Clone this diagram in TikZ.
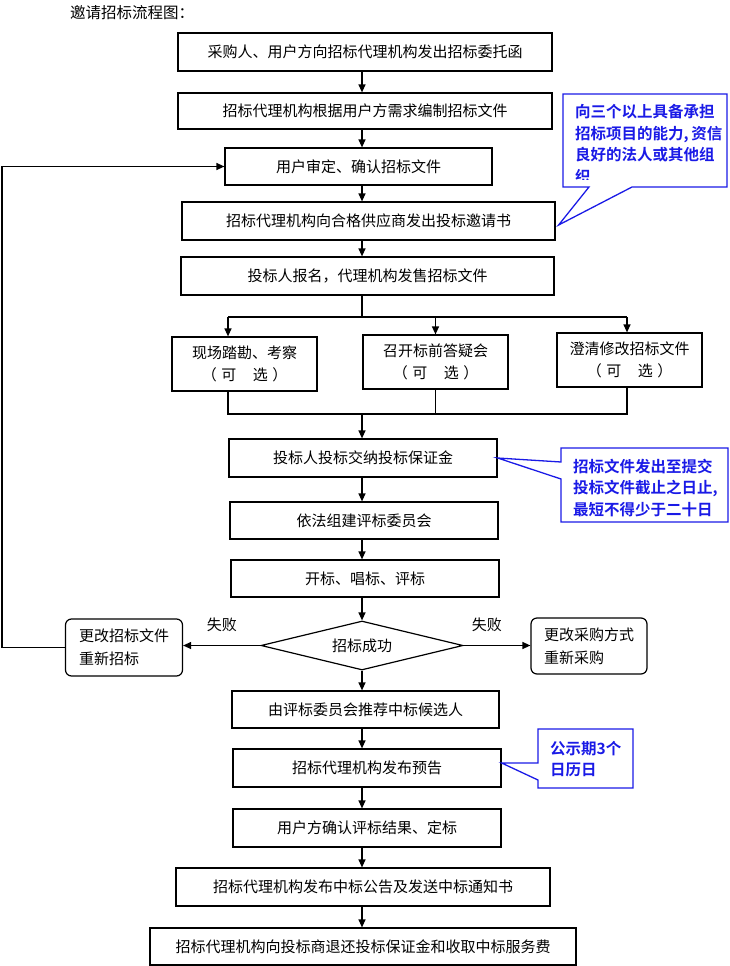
\documentclass[tikz,border=0pt]{standalone}
\usepackage{fontspec}
\setmainfont{Noto Sans CJK SC}[BoldFont={Noto Sans CJK SC Bold}]
\usepackage{tikz}
\usetikzlibrary{arrows.meta,positioning,calc,shapes.geometric}
\definecolor{notice}{HTML}{1A1AE6}
\tikzset{
  stepbox/.style={draw,line width=1.2pt,inner sep=0pt,align=center,
    minimum height=38pt,font=\fontsize{15}{22}\selectfont},
  optbox/.style={stepbox,minimum width=145pt,minimum height=54pt},
  redobox/.style={draw,line width=1.2pt,rounded corners=6pt,inner sep=0pt,
    minimum width=117pt,minimum height=57pt,text width=90pt,align=left,
    font=\fontsize{15}{23}\selectfont},
  check/.style={draw,diamond,aspect=4,line width=1.2pt,inner sep=0pt,
    minimum width=202pt,minimum height=49pt,font=\fontsize{15}{18}\selectfont},
  arrow/.style={-{Triangle[length=8pt,width=7pt]},line width=1.2pt},
  link/.style={line width=1.2pt},
  callout/.style={draw=notice,line width=1.3pt},
  notetext/.style={text=notice,inner sep=0pt,align=left,
    font=\fontsize{15.5}{21.5}\selectfont\bfseries},
  failtext/.style={inner sep=0pt,font=\fontsize{15}{18}\selectfont}
}
\begin{document}
\begin{tikzpicture}[x=1pt,y=-1pt]
  \useasboundingbox (0,0) rectangle (730,966);
  \node[anchor=west,inner sep=0pt,font=\fontsize{15.5}{18}\selectfont] (title) at (70,13) {邀请招标流程图：};
  \coordinate (spine) at (362,0);
  % main column
  \node[stepbox,minimum width=374pt] (b1) at (365,52) {采购人、用户方向招标代理机构发出招标委托函};
  \node[stepbox,minimum width=374pt,minimum height=36pt] (b2) at (365,111) {招标代理机构根据用户方需求编制招标文件};
  \node[stepbox,minimum width=267pt,minimum height=37pt] (b3) at (358.5,166.5) {用户审定、确认招标文件};
  \node[stepbox,minimum width=373pt] (b4) at (368.5,221) {招标代理机构向合格供应商发出投标邀请书};
  \node[stepbox,minimum width=373pt] (b5) at (367.5,276) {投标人报名，代理机构发售招标文件};
  \node[optbox] (b6a) at (244.5,364) {现场踏勘、考察\\（\hspace{0.3em}可\hspace{1.1em}选\hspace{0.3em}）};
  \node[optbox] (b6b) at (435.5,362) {召开标前答疑会\\（\hspace{0.3em}可\hspace{1.1em}选\hspace{0.3em}）};
  \node[optbox] (b6c) at (629.5,360) {澄清修改招标文件\\（\hspace{0.3em}可\hspace{1.1em}选\hspace{0.3em}）};
  \node[stepbox,minimum width=268pt] (b7) at (363,458) {投标人投标交纳投标保证金};
  \node[stepbox,minimum width=268pt,minimum height=37pt] (b8) at (364,520.5) {依法组建评标委员会};
  \node[stepbox,minimum width=268pt,minimum height=37pt] (b9) at (365,578.5) {开标、唱标、评标};
  \node[check] (dia) at (362,645.5) {招标成功};
  \node[redobox] (lbox) at (124,647.5) {更改招标文件\\重新招标};
  \node[redobox,minimum width=116pt,minimum height=56pt] (rbox) at (589,646) {更改采购方式\\重新采购};
  \node[stepbox,minimum width=267pt,minimum height=37pt] (b10) at (365.5,709.5) {由评标委员会推荐中标候选人};
  \node[stepbox,minimum width=268pt] (b11) at (367,768) {招标代理机构发布预告};
  \node[stepbox,minimum width=268pt] (b12) at (367,828) {用户方确认评标结果、定标};
  \node[stepbox,minimum width=374pt] (b13) at (363,887) {招标代理机构发布中标公告及发送中标通知书};
  \node[stepbox,minimum width=426pt,minimum height=37pt] (b14) at (363,946.5) {招标代理机构向投标商退还投标保证金和收取中标服务费};

  % spine arrows
  \draw[arrow] (b1.south -| spine) -- (b2.north -| spine);
  \draw[arrow] (b2.south -| spine) -- (b3.north -| spine);
  \draw[arrow] (b3.south -| spine) -- (b4.north -| spine);
  \draw[arrow] (b4.south -| spine) -- (b5.north -| spine);
  \draw[arrow] (b7.south -| spine) -- (b8.north -| spine);
  \draw[arrow] (b8.south -| spine) -- (b9.north -| spine);
  \draw[arrow] (b9.south -| spine) -- (dia.north);
  \draw[arrow] (dia.south) -- (dia.south |- b10.north);
  \draw[arrow] (b10.south -| spine) -- (b11.north -| spine);
  \draw[arrow] (b11.south -| spine) -- (b12.north -| spine);
  \draw[arrow] (b12.south -| spine) -- (b13.north -| spine);
  \draw[arrow] (b13.south -| spine) -- (b14.north -| spine);

  % fork and join of optional steps
  \coordinate (fl) at (228,317);
  \coordinate (fr) at (627,317);
  \coordinate (jl) at (228,414);
  \coordinate (jr) at (627,414);
  \draw[link] (b5.south -| spine) -- (spine |- fl);
  \draw[link] (fl) -- (fr);
  \draw[arrow] (fl) -- (fl |- b6a.north);
  \draw[arrow] (b6b.north |- fl) -- (b6b.north);
  \draw[arrow] (fr) -- (fr |- b6c.north);
  \draw[link] (jl |- b6a.south) -- (jl) -- (jr) -- (jr |- b6c.south);
  \draw[link] (b6b.south) -- (b6b.south |- jl);
  \draw[arrow] (spine |- jl) -- (b7.north -| spine);

  % failure branches
  \coordinate (loop) at (2,0);
  \draw[arrow] (dia.west) -- node[failtext,above=13pt]{失败} (dia.west -| lbox.east);
  \draw[arrow] (dia.east) -- node[failtext,pos=0.35,above=13pt]{失败} (dia.east -| rbox.west);
  \draw[arrow] (lbox.west) -- (lbox.west -| loop) |- (b3.west);

  % notes
  \coordinate (tip1) at ($(b4.east)+(3,4)$);
  \coordinate (tip2) at (b7.east);
  \coordinate (tip3) at ($(b11.east)+(0,-5)$);
  \draw[callout] (563,94) -- (727,94) -- (727,187) -- (632,187) -- (tip1) -- (589,187) -- (563,187) -- cycle;
  \begin{scope}
    \clip (563,94) rectangle (727,179);
    \node[notetext,anchor=west] (c1) at (575,144) {向三个以上具备承担\\招标项目的能力,\,资信\\良好的法人或其他组\\织};
  \end{scope}
  \draw[callout] (561,448) -- (728,448) -- (728,522) -- (561,522) -- (561,479) -- (tip2) -- (561,462) -- cycle;
  \node[notetext,anchor=west] (c2) at (573,488) {招标文件发出至提交\\投标文件截止之日止,\\最短不得少于二十日};
  \draw[callout] (538,729) -- (633,729) -- (633,788) -- (538,788) -- (538,780) -- (tip3) -- (538,763) -- cycle;
  \node[notetext,anchor=west] (c3) at (550,759) {公示期3个\\日历日};
\end{tikzpicture}
\end{document}
